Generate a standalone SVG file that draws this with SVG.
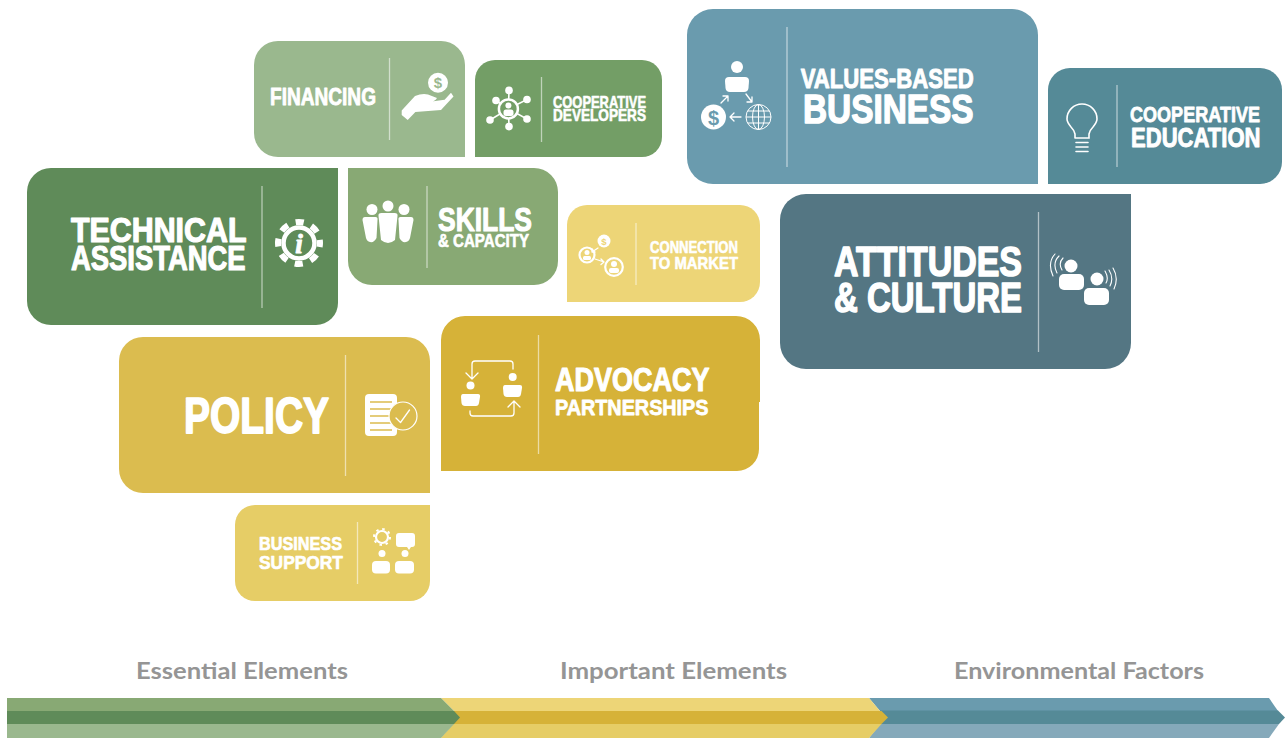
<svg xmlns="http://www.w3.org/2000/svg" width="1286" height="738" viewBox="0 0 1286 738">
<style>
text{font-family:"Liberation Sans",Arial,sans-serif;font-weight:700;fill:#fff;stroke:#fff;stroke-width:.035em;stroke-linejoin:round}
.lab{font-family:Lato,"Open Sans",sans-serif;font-weight:700;fill:#959595;stroke:none;font-size:23px}
.div{stroke:#fff;stroke-opacity:.55;stroke-width:1.3;fill:none}
.w{fill:#fff}
.ln{fill:none;stroke:#fff;stroke-width:1.3;stroke-linecap:round;stroke-linejoin:round}
.ln2{fill:none;stroke:#fff;stroke-width:1.6;stroke-linecap:round}
</style>
<rect width="1286" height="738" fill="#fff"/>

<g id="node-financing">
<path d="M278 41H441A24 24 0 0 1 465 65V157H278A24 24 0 0 1 254 133V65A24 24 0 0 1 278 41Z" fill="#9AB88E"/>
<line class="div" x1="389.500" y1="58" x2="389.500" y2="140"/>
<text x="270" y="104.500" font-size="24.500" textLength="106" lengthAdjust="spacingAndGlyphs">FINANCING</text>
<circle class="w" cx="438" cy="82.700" r="10"/>
<text x="438" y="88" font-size="15" text-anchor="middle" style="fill:#9AB88E;stroke:none">$</text>
<path class="w" d="M401.700 110.500 415 96Q422 93 428 94.400L437 98Q435 102 428 102L444.600 99.800L451 92.800L453.500 96.500L441 110L415.400 112L407.700 120L401.700 115Z"/>
</g>

<g id="node-cooperative-developers">
<path d="M495 60H642A20 20 0 0 1 662 80V137A20 20 0 0 1 642 157H475V80A20 20 0 0 1 495 60Z" fill="#739E66"/>
<line class="div" x1="541.500" y1="77" x2="541.500" y2="142"/>
<text x="553" y="108" font-size="17" textLength="93" lengthAdjust="spacingAndGlyphs">COOPERATIVE</text>
<text x="553" y="121.300" font-size="17" textLength="93" lengthAdjust="spacingAndGlyphs">DEVELOPERS</text>
<g stroke="#fff" stroke-width="1.600">
<line x1="508.400" y1="108.900" x2="509" y2="90.400"/><line x1="508.400" y1="108.900" x2="527" y2="99.500"/><line x1="508.400" y1="108.900" x2="527" y2="119"/><line x1="508.400" y1="108.900" x2="509" y2="126.600"/><line x1="508.400" y1="108.900" x2="490" y2="120"/><line x1="508.400" y1="108.900" x2="496" y2="100.500"/>
</g>
<g class="w"><circle cx="509" cy="90.400" r="3.800"/><circle cx="527" cy="99.500" r="3.800"/><circle cx="527" cy="119" r="3.800"/><circle cx="509" cy="126.600" r="3.800"/><circle cx="490" cy="120" r="3.800"/><circle cx="496" cy="100.500" r="3.800"/></g>
<circle cx="508.400" cy="108.900" r="9.500" fill="#739E66" stroke="#fff" stroke-width="2.500"/>
<circle class="w" cx="508.400" cy="105.500" r="3"/>
<rect class="w" x="503.500" y="109.500" width="10" height="6.500" rx="2.500"/>
</g>

<g id="node-technical-assistance">
<path d="M51 168H338V303A22 22 0 0 1 316 325H51A24 24 0 0 1 27 301V192A24 24 0 0 1 51 168Z" fill="#5F8B59"/>
<line class="div" x1="262" y1="186" x2="262" y2="308"/>
<text x="71" y="241.700" font-size="35" textLength="175.500" lengthAdjust="spacingAndGlyphs">TECHNICAL</text>
<text x="71" y="270" font-size="35" textLength="174.500" lengthAdjust="spacingAndGlyphs">ASSISTANCE</text>
<circle cx="299" cy="243" r="21" fill="none" stroke="#fff" stroke-width="6" stroke-dasharray="8.250 8.250" stroke-dashoffset="4.100"/>
<circle cx="299" cy="243" r="15.500" fill="none" stroke="#fff" stroke-width="4.500"/>
<text x="299" y="253" font-size="27" text-anchor="middle" style="font-family:'Liberation Serif',serif;font-style:italic">i</text>
</g>

<g id="node-skills-capacity">
<path d="M348 168H534A24 24 0 0 1 558 192V261A24 24 0 0 1 534 285H372A24 24 0 0 1 348 261Z" fill="#88A974"/>
<line class="div" x1="427" y1="186" x2="427" y2="268"/>
<text x="438" y="231" font-size="33" textLength="94" lengthAdjust="spacingAndGlyphs">SKILLS</text>
<text x="438" y="247" font-size="18" textLength="91" lengthAdjust="spacingAndGlyphs">&amp; CAPACITY</text>
<g class="w">
<circle cx="372" cy="209.500" r="5.500"/><circle cx="388" cy="206" r="5.500"/><circle cx="404" cy="209.500" r="5.500"/>
<path d="M365 217H375.500Q378 217 377.500 220L376.500 238Q374 243 370 242 367 241.500 366 238L362.500 220Q362.500 217 365 217Z"/>
<path d="M381.500 213H394.500Q398 213 397.500 216L395 240Q388 246 381 240L378.500 216Q378 213 381.500 213Z"/>
<path d="M400.500 217H411Q413.500 217 413.500 220L410 238Q409 241.500 406 242 402 243 399.500 238L398.500 220Q398 217 400.500 217Z"/>
</g>
</g>

<g id="node-connection-to-market">
<path d="M587 205H740A20 20 0 0 1 760 225V282A20 20 0 0 1 740 302H567V225A20 20 0 0 1 587 205Z" fill="#EDD577"/>
<line class="div" x1="636" y1="223" x2="636" y2="285"/>
<text x="650" y="253" font-size="17" textLength="88" lengthAdjust="spacingAndGlyphs">CONNECTION</text>
<text x="650" y="269" font-size="17" textLength="88" lengthAdjust="spacingAndGlyphs">TO MARKET</text>
<circle cx="587" cy="255" r="7.500" fill="none" stroke="#fff" stroke-width="2.200"/>
<circle class="w" cx="587" cy="252.500" r="2.500"/><rect class="w" x="583" y="256" width="8" height="4" rx="1.500"/>
<circle cx="614" cy="267" r="8.800" fill="none" stroke="#fff" stroke-width="2.200"/>
<circle class="w" cx="614" cy="264" r="3"/><rect class="w" x="609" y="268" width="10" height="5" rx="2"/>
<circle class="w" cx="604" cy="241" r="6.500"/>
<text x="604" y="244.500" font-size="9.500" text-anchor="middle" style="fill:#EDD577;stroke:none">$</text>
<path class="ln" d="M598 248 592 252M592 249V252H595M595 259 604 262M601 259 604 262 601 264.500"/>
</g>

<g id="node-policy">
<path d="M143 337H406A24 24 0 0 1 430 361V493H143A24 24 0 0 1 119 469V361A24 24 0 0 1 143 337Z" fill="#DBBC4F"/>
<line class="div" x1="345.500" y1="355" x2="345.500" y2="476"/>
<text x="184" y="433" font-size="50" textLength="145" lengthAdjust="spacingAndGlyphs">POLICY</text>
<rect class="w" x="365" y="394" width="32" height="42" rx="4"/>
<path d="M370 402H392M370 409H392M370 416H392M370 423H392M370 430H392" stroke="#DBBC4F" stroke-width="1.500"/>
<circle cx="403" cy="416" r="14" fill="#DBBC4F" stroke="#fff" stroke-width="1.200"/>
<path class="ln" d="M396 418 400.500 422.500 409.500 410"/>
</g>

<g id="node-business-support">
<path d="M255 505H430V581A20 20 0 0 1 410 601H255A20 20 0 0 1 235 581V525A20 20 0 0 1 255 505Z" fill="#E6CD66"/>
<line class="div" x1="357.500" y1="522" x2="357.500" y2="584"/>
<text x="259" y="550" font-size="19" textLength="83" lengthAdjust="spacingAndGlyphs">BUSINESS</text>
<text x="259" y="569" font-size="19" textLength="84" lengthAdjust="spacingAndGlyphs">SUPPORT</text>
<circle cx="382" cy="537" r="6" fill="none" stroke="#fff" stroke-width="2.200"/>
<circle cx="382" cy="537" r="8" fill="none" stroke="#fff" stroke-width="2" stroke-dasharray="2.500 3.780"/>
<path class="w" d="M399 533H412Q415 533 415 536V544Q415 547 412 547H411L409 550 407 547H399Q396 547 396 544V536Q396 533 399 533Z"/>
<circle class="w" cx="382" cy="553.500" r="3.500"/><circle class="w" cx="405" cy="553.500" r="3.500"/>
<rect class="w" x="372" y="561" width="18" height="12.500" rx="4"/><rect class="w" x="395" y="561" width="19" height="12.500" rx="4"/>
</g>

<g id="node-advocacy-partnerships">
<path d="M465 316H736A24 24 0 0 1 760 340V402H759V449A22 22 0 0 1 737 471H441V340A24 24 0 0 1 465 316Z" fill="#D6B238"/>
<line class="div" x1="538.500" y1="335" x2="538.500" y2="454"/>
<text x="555" y="391" font-size="33.500" textLength="154.500" lengthAdjust="spacingAndGlyphs">ADVOCACY</text>
<text x="555" y="415" font-size="22" textLength="153.500" lengthAdjust="spacingAndGlyphs">PARTNERSHIPS</text>
<circle class="w" cx="470.500" cy="385.400" r="4"/><circle class="w" cx="512.700" cy="377" r="4"/>
<path class="w" d="M463 394H478Q480.500 394 480 397L479 403Q478.500 406 476 406H465Q462 406 461.500 403L461 397Q461 394 463 394Z"/>
<path class="w" d="M505 385H520Q522.500 385 522 388L521 394Q520.500 397 518 397H507Q504 397 503.500 394L503 388Q503 385 505 385Z"/>
<path class="ln" d="M472 378V364Q472 361 475 361H510Q513 361 513 364V369M466 373 472 379 478 373M470 411V413Q470 416 473 416H511Q514 416 514 413V402M508 407 514 401 520 407"/>
</g>

<g id="node-values-based-business">
<path d="M713 9H1012A26 26 0 0 1 1038 35V184H713A26 26 0 0 1 687 158V35A26 26 0 0 1 713 9Z" fill="#6A9BAE"/>
<line class="div" x1="787" y1="27" x2="787" y2="167"/>
<text x="800.700" y="87.500" font-size="27.500" textLength="173" lengthAdjust="spacingAndGlyphs">VALUES-BASED</text>
<text x="803" y="122.500" font-size="40" textLength="170.500" lengthAdjust="spacingAndGlyphs">BUSINESS</text>
<circle class="w" cx="737" cy="67" r="6"/>
<path class="w" d="M729 77H745Q749 77 749 81L748.500 88Q748 92 744 92H730Q726 92 725.500 88L725 81Q725 77 729 77Z"/>
<circle class="w" cx="713.500" cy="117" r="12.500"/>
<text x="713.500" y="124.500" font-size="20" text-anchor="middle" style="fill:#6A9BAE;stroke:none">$</text>
<g fill="none" stroke="#fff" stroke-width="1"><circle cx="758.500" cy="117" r="12.500"/><ellipse cx="758.500" cy="117" rx="6" ry="12.500"/><path d="M758.500 104.500V129.500M746 117H771M747.500 111H769.500M747.500 123H769.500"/></g>
<path class="ln" d="M721 103 728 96M723 96H728V101M746 94 752 102M752 97V102H747M741 117H730M734 113 730 117 734 121"/>
</g>

<g id="node-cooperative-education">
<path d="M1070 68H1260A22 22 0 0 1 1282 90V162A22 22 0 0 1 1260 184H1048V90A22 22 0 0 1 1070 68Z" fill="#558A97"/>
<line class="div" x1="1117" y1="85" x2="1117" y2="167"/>
<text x="1130" y="122" font-size="22" textLength="130" lengthAdjust="spacingAndGlyphs">COOPERATIVE</text>
<text x="1131" y="147" font-size="28" textLength="129.500" lengthAdjust="spacingAndGlyphs">EDUCATION</text>
<path class="ln2" d="M1075 138V134Q1074 130 1071 127 1067 122 1067 119A15 15 0 0 1 1097 119Q1097 122 1093 127 1090 130 1089 134V138H1075"/>
<path class="ln2" d="M1076 142.500H1088M1076 147H1088M1076 151.500H1088"/>
</g>

<g id="node-attitudes-culture">
<path d="M806 194H1131V343A26 26 0 0 1 1105 369H806A26 26 0 0 1 780 343V220A26 26 0 0 1 806 194Z" fill="#547683"/>
<line class="div" x1="1038.500" y1="212" x2="1038.500" y2="352"/>
<text x="834" y="276" font-size="42.500" textLength="188" lengthAdjust="spacingAndGlyphs">ATTITUDES</text>
<text x="834" y="312" font-size="42.500" textLength="188" lengthAdjust="spacingAndGlyphs">&amp; CULTURE</text>
<circle class="w" cx="1071" cy="266" r="6.500"/><circle class="w" cx="1097" cy="279" r="6.500"/>
<rect class="w" x="1059" y="274" width="25" height="16" rx="5"/>
<rect x="1083" y="287" width="27" height="19" rx="6" fill="#547683"/>
<rect class="w" x="1084" y="288" width="25" height="17" rx="5"/>
<path class="ln" style="stroke-width:1.100" d="M1063 258Q1058 263 1062 270M1059 256Q1052 263 1057 273M1055 254Q1047 263 1053 276M1105 271Q1109 278 1106 283M1109 270Q1114 278 1110 286M1113 268Q1119 278 1114 289"/>
</g>

<g id="legend">
<text class="lab" x="136" y="679" textLength="212" lengthAdjust="spacingAndGlyphs">Essential Elements</text>
<text class="lab" x="560" y="679" textLength="227" lengthAdjust="spacingAndGlyphs">Important Elements</text>
<text class="lab" x="954" y="679" textLength="250" lengthAdjust="spacingAndGlyphs">Environmental Factors</text>
</g>

<g id="connectors">
<polygon points="869,698 1269,698 1278,711 880,711" fill="#6A9BAE"/>
<polygon points="880,710.500 1278,710.500 1285,717.500 1279,724 880,724" fill="#558A97"/>
<polygon points="880,724 1279,724 1269,738 869,738" fill="#85A9BA"/>
<polygon points="441,698 869,698 880,711 874,724 869,738 441,738 454,724 454,711" fill="#EDD577"/>
<polygon points="454,711 881.500,711 888,717.500 881.500,724 454,724" fill="#D6B238"/>
<polygon points="453,724 881.500,724 869,738 441,738" fill="#E6CD66"/>
<polygon points="7,698 441,698 454,711 7,711" fill="#88A974"/>
<polygon points="7,711 454,711 460,717.500 454,724 7,724" fill="#5F8B59"/>
<polygon points="7,724 454,724 441,738 7,738" fill="#9AB88E"/>
</g>
</svg>
